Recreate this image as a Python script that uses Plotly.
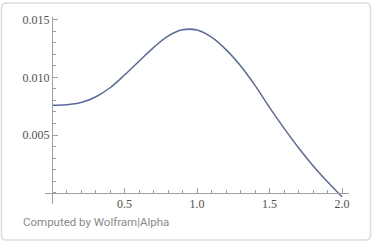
import plotly.graph_objects as go

x_vals = [0.0, 0.1, 0.2, 0.3, 0.4, 0.5, 0.6, 0.7, 0.8, 0.9, 1.0, 1.1, 1.2, 1.3, 1.4, 1.5, 1.6, 1.7, 1.8, 1.9, 2.0]
y_vals = [0.00758, 0.00762, 0.00782, 0.00830, 0.00910, 0.01020, 0.01140, 0.01258, 0.01358, 0.01412, 0.01410, 0.01348, 0.01240, 0.01100, 0.00930, 0.00740, 0.00560, 0.00390, 0.00235, 0.00095, -0.00035]

x_ticks = [0.5, 1.0, 1.5, 2.0]
x_tick_text = ["0.5", "1.0", "1.5", "2.0"]
y_ticks = [0.005, 0.010, 0.015]
y_tick_text = ["0.005", "0.010", "0.015"]

W, H = 372, 242
L, R, T, B = 45, 23, 17, 38
pw, ph = W - L - R, H - T - B

x_range = [-7 / 145, -7 / 145 + pw / 145]
y_range = [0.01523 - ph / 11540, 0.01523]

fig = go.Figure()
fig.add_trace(go.Scatter(x=x_vals, y=y_vals, mode="lines",
                         line=dict(color="#5b6a9c", width=1.5, shape="spline", smoothing=1.0),
                         hoverinfo="skip"))

axis_color = "#a0a0a0"
serif = "DejaVu Serif"
tick_font = dict(family="Liberation Serif", size=12, color="#505050")

fig.update_layout(
    width=W, height=H,
    font=dict(family="Liberation Serif"),
    margin=dict(l=L, r=R, t=T, b=B, pad=0),
    paper_bgcolor="white", plot_bgcolor="white",
    showlegend=False,
    xaxis=dict(range=x_range, showgrid=False, zeroline=False,
               showline=True, linecolor=axis_color, linewidth=1,
               anchor="free", position=(204 - 192.7) / ph,
               tickvals=x_ticks, ticktext=x_tick_text,
               ticks="inside", ticklen=5, tickcolor=axis_color, tickwidth=1,
               minor=dict(dtick=0.1, tick0=0, ticks="inside", ticklen=3, tickcolor=axis_color, tickwidth=1),
               tickfont=tick_font, fixedrange=True),
    yaxis=dict(range=y_range, showgrid=False, zeroline=False,
               showline=True, linecolor=axis_color, linewidth=1,
               anchor="free", position=7 / pw,
               tickvals=y_ticks, ticktext=y_tick_text,
               ticks="inside", ticklen=5, tickcolor=axis_color, tickwidth=1,
               minor=dict(dtick=0.001, tick0=0, ticks="inside", ticklen=3, tickcolor=axis_color, tickwidth=1),
               tickfont=tick_font, fixedrange=True),
)

def px2paper(px, py):
    return (px - L) / pw, (H - B - py) / ph

x0, y0 = px2paper(1.5, 3)
x1, y1 = px2paper(370.5, 240)
r = 5
rx, ry = r / pw, r / ph
path = (f"M {x0+rx},{y0} L {x1-rx},{y0} Q {x1},{y0} {x1},{y0-ry} "
        f"L {x1},{y1+ry} Q {x1},{y1} {x1-rx},{y1} L {x0+rx},{y1} "
        f"Q {x0},{y1} {x0},{y1+ry} L {x0},{y0-ry} Q {x0},{y0} {x0+rx},{y0} Z")
fig.add_shape(type="path", xref="paper", yref="paper", path=path,
              line=dict(color="#dcdcdc", width=1.5), fillcolor="rgba(0,0,0,0)", layer="below")

ax, ay = px2paper(21, 221.5)
fig.add_annotation(text="Computed by Wolfram|Alpha", xref="paper", yref="paper",
                   x=ax, y=ay, xanchor="left", yanchor="middle", showarrow=False,
                   font=dict(family="Roboto", size=11.5, color="#8a8a8a"))

fig.write_html("out.html", config={"displayModeBar": False})
